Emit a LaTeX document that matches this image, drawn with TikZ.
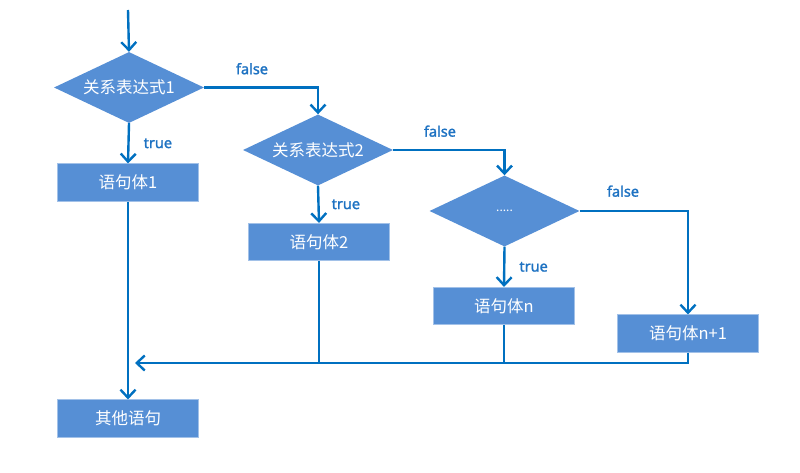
\documentclass[tikz,border=0pt]{standalone}
\usepackage{fontspec}
\setmainfont{Noto Sans CJK SC}
\newfontfamily\lblfont{Noto Sans}[FakeBold=1.6]
\usetikzlibrary{shapes.geometric,arrows.meta}
\definecolor{boxblue}{RGB}{86,143,213}
\definecolor{lineblue}{RGB}{0,112,192}
\definecolor{lblblue}{RGB}{30,114,194}
\begin{document}
\begin{tikzpicture}[x=1pt,y=-1pt,
  dec/.style={diamond,fill=boxblue,minimum width=150pt,minimum height=71pt,aspect=2.1,inner sep=0pt,text=white,font=\fontsize{16.5}{18}\selectfont},
  stbox/.style={rectangle,fill=boxblue,draw=boxblue!55!white,line width=0.6pt,minimum width=141pt,minimum height=37.5pt,inner sep=0pt,text=white,font=\fontsize{16.5}{18}\selectfont},
  conn/.style={draw=lineblue,line width=2.4pt},
  flow/.style={conn,-{Straight Barb[length=8pt,width=15pt,line width=2.4pt]}},
  lbl/.style={text=lblblue,font=\lblfont\fontsize{14.5}{16}\selectfont,inner sep=0pt}
]
\useasboundingbox (0,0) rectangle (800,473);
\coordinate (start) at (128,10);
\node[dec] (d1) at (129,87.5) {关系表达式1};
\node[stbox] (b1) at (128,182.5) {语句体1};
\node[stbox] (other) at (128,418.5) {其他语句};
\node[dec] (d2) at (318,150) {关系表达式2};
\node[stbox] (b2) at (319,242) {语句体2};
\node[dec] (d3) at (504.5,211) {\fontsize{12}{14}\selectfont .....};
\node[stbox] (bn) at (504,306) {语句体n};
\node[stbox] (bn1) at (688,333.5) {语句体n+1};
\coordinate (m) at (135,363);

\draw[flow] (start) -- (d1.north);
\draw[flow] (d1.south) -- node[lbl,right=14pt]{true} (b1.north);
\draw[flow] (d1.east) -| node[lbl,pos=0.21,above=12pt]{false} (d2.north);
\draw[flow] (d2.south) -- node[lbl,right=12pt]{true} (b2.north);
\draw[flow] (d2.east) -| node[lbl,pos=0.21,above=12pt]{false} (d3.north);
\draw[flow] (d3.south) -- node[lbl,right=14pt]{true} (bn.north);
\draw[flow] (d3.east) -| node[lbl,pos=0.2,above=13pt]{false} (bn1.north);
\draw[flow] (b1.south) -- (other.north);
\draw[flow] (bn1.south) |- (m);
\draw[conn] (b2.south) -- (b2.south |- m);
\draw[conn] (bn.south) -- (bn.south |- m);
\end{tikzpicture}
\end{document}
